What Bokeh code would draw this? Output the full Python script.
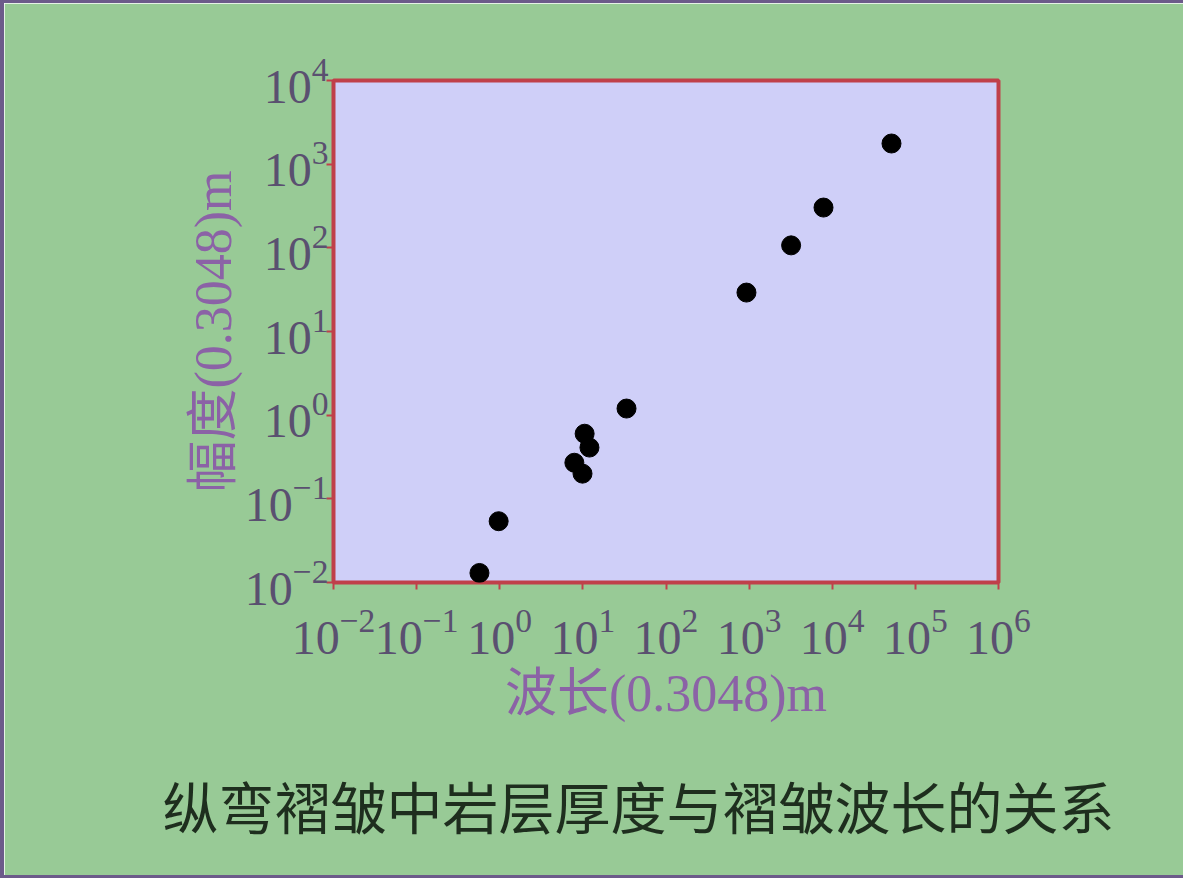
from bokeh.plotting import figure
from bokeh.models import Title, FixedTicker, ColumnDataSource
from bokeh.embed import file_html
from bokeh.resources import INLINE

# --- data ---
wavelength = [51600, 7850, 3200, 929, 33.5, 10.5, 12.0, 7.9, 9.9, 0.97, 0.57]
thickness = [1766, 303, 107, 29.2, 1.20, 0.60, 0.41, 0.27, 0.20, 0.054, 0.013]
x_ticks = [1e-2, 1e-1, 1e0, 1e1, 1e2, 1e3, 1e4, 1e5, 1e6]
y_ticks = [1e-2, 1e-1, 1e0, 1e1, 1e2, 1e3, 1e4]
x_title = "波长(0.3048)m"
y_title = "幅度(0.3048)m"
chart_title = "纵弯褶皱中岩层厚度与褶皱波长的关系"

GREEN = "#98CA96"
LAVENDER = "#CFCFF8"
RED = "#C0404A"
PURPLE = "#6C5A8A"
TICK_TXT = "#5A5070"
TITLE_TXT = "#8B62A6"
SERIF = "'Liberation Serif', 'Noto Sans CJK SC'"

p = figure(width=1183, height=878, x_axis_type="log", y_axis_type="log",
           x_range=(1e-2, 1e6), y_range=(1e-2, 1e4),
           output_backend="svg", toolbar_location=None,
           min_border_left=329, min_border_right=189,
           min_border_top=77, min_border_bottom=299)

p.styles = {"border-left": f"4px solid {PURPLE}",
            "border-top": f"3px solid {PURPLE}",
            "border-bottom": f"3px solid {PURPLE}"}

p.background_fill_color = LAVENDER
p.border_fill_color = GREEN
p.outline_line_color = RED
p.outline_line_width = 4
p.grid.visible = False

src = ColumnDataSource(dict(x=wavelength, y=thickness))
p.scatter("x", "y", source=src, size=19, color="black")

for ax, ticks in ((p.xaxis[0], x_ticks), (p.yaxis[0], y_ticks)):
    ax.ticker = FixedTicker(ticks=ticks, minor_ticks=[])
    ax.axis_line_color = None
    ax.major_tick_line_color = RED
    ax.major_tick_line_width = 2
    ax.major_tick_in = 0
    ax.major_tick_out = 7
    ax.minor_tick_line_color = None
    ax.major_label_text_font = SERIF
    ax.major_label_text_font_size = "48px"
    ax.major_label_text_color = TICK_TXT
    ax.axis_label_text_font = SERIF
    ax.axis_label_text_font_size = "52px"
    ax.axis_label_text_font_style = "normal"
    ax.axis_label_text_color = TITLE_TXT

p.xaxis.axis_label = x_title
p.yaxis.axis_label = y_title
p.xaxis.major_label_standoff = 20
p.xaxis.axis_label_standoff = 8
p.yaxis.major_label_standoff = -2
p.yaxis.axis_label_standoff = 0

p.add_layout(Title(text=chart_title, align="left", offset=-171, standoff=74,
                   text_font="Noto Sans CJK SC", text_font_size="56px",
                   text_font_style="normal", text_color="#1E2E1E"), "below")

open("out.html", "w").write(file_html(p, INLINE))
